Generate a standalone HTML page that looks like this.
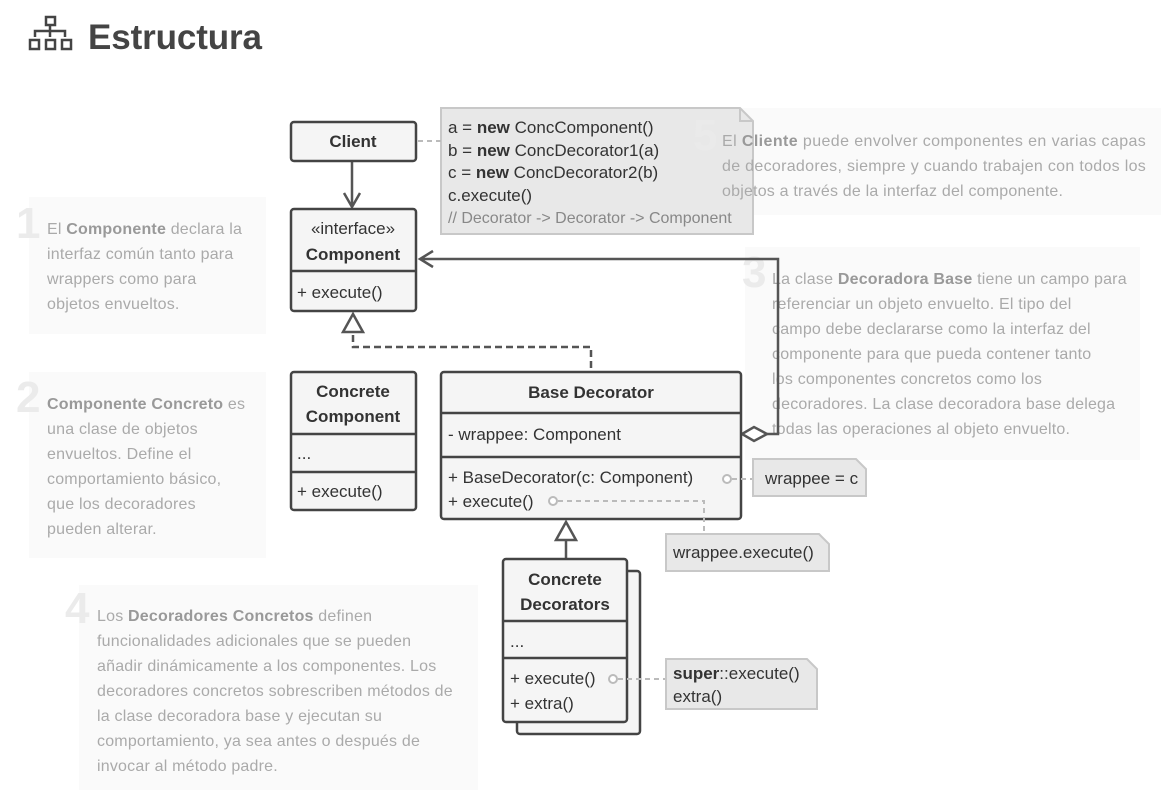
<!DOCTYPE html>
<html><head><meta charset="utf-8"><style>
html,body{margin:0;padding:0;background:#fff;}
svg{display:block;font-family:"Liberation Sans",sans-serif;}
.b{fill:#f5f5f5;stroke:#444;stroke-width:2.5;}
.t{font-size:17px;fill:#333;}
.tb{font-size:17px;fill:#333;font-weight:bold;}
.a{font-size:16px;fill:#aaa;letter-spacing:0.2px;}
.ab{font-weight:bold;fill:#999;}
.n{font-size:44px;font-weight:bold;fill:#ebebeb;}
.note{fill:#e8e8e8;stroke:#c8c8c8;stroke-width:2;}
.d{stroke:#bbb;stroke-width:2;stroke-dasharray:5,4;fill:none;}
</style></head><body>
<svg width="1161" height="791" viewBox="0 0 1161 791">
<!-- title -->
<g fill="none" stroke="#444" stroke-width="2.5">
<rect x="46" y="17" width="9" height="8"/>
<path d="M50 25v6M35 37v-6h30v6M50 31v6"/>
<rect x="30" y="40" width="9" height="9"/><rect x="46" y="40" width="9" height="9"/><rect x="62" y="40" width="9" height="9"/>
</g>
<text x="88" y="49" font-size="35" font-weight="bold" fill="#444" textLength="174">Estructura</text>

<!-- annotation backgrounds -->
<rect x="29" y="197" width="237" height="137" fill="#fafafa"/>
<rect x="29" y="372" width="237" height="186" fill="#fafafa"/>
<rect x="79" y="585" width="399" height="205" fill="#fafafa"/>
<rect x="700" y="108" width="461" height="107" fill="#fafafa"/>
<rect x="745" y="247" width="395" height="213" fill="#fafafa"/>

<text class="n" x="16" y="238">1</text>
<text class="a" x="47" y="234">El <tspan class="ab">Componente</tspan> declara la</text>
<text class="a" x="47" y="259">interfaz común tanto para</text>
<text class="a" x="47" y="284">wrappers como para</text>
<text class="a" x="47" y="309">objetos envueltos.</text>

<text class="n" x="16" y="412">2</text>
<text class="a" x="47" y="409"><tspan class="ab">Componente Concreto</tspan> es</text>
<text class="a" x="47" y="434">una clase de objetos</text>
<text class="a" x="47" y="459">envueltos. Define el</text>
<text class="a" x="47" y="484">comportamiento básico,</text>
<text class="a" x="47" y="509">que los decoradores</text>
<text class="a" x="47" y="534">pueden alterar.</text>

<text class="n" x="65" y="623">4</text>
<text class="a" x="97" y="621">Los <tspan class="ab">Decoradores Concretos</tspan> definen</text>
<text class="a" x="97" y="646">funcionalidades adicionales que se pueden</text>
<text class="a" x="97" y="671">añadir dinámicamente a los componentes. Los</text>
<text class="a" x="97" y="696">decoradores concretos sobrescriben métodos de</text>
<text class="a" x="97" y="721">la clase decoradora base y ejecutan su</text>
<text class="a" x="97" y="746">comportamiento, ya sea antes o después de</text>
<text class="a" x="97" y="771">invocar al método padre.</text>

<text class="n" x="742" y="287">3</text>
<text class="a" x="772" y="284">La clase <tspan class="ab">Decoradora Base</tspan> tiene un campo para</text>
<text class="a" x="772" y="309">referenciar un objeto envuelto. El tipo del</text>
<text class="a" x="772" y="334">campo debe declararse como la interfaz del</text>
<text class="a" x="772" y="359">componente para que pueda contener tanto</text>
<text class="a" x="772" y="384">los componentes concretos como los</text>
<text class="a" x="772" y="409">decoradores. La clase decoradora base delega</text>
<text class="a" x="772" y="434">todas las operaciones al objeto envuelto.</text>

<!-- code note -->
<path class="note" d="M441 108H740L753 121V234H441Z"/>
<path d="M740 108V121H753" fill="none" stroke="#c8c8c8" stroke-width="2"/>
<text class="t" font-size="16" x="448" y="133">a = <tspan font-weight="bold">new</tspan> ConcComponent()</text>
<text class="t" font-size="16" x="448" y="156">b = <tspan font-weight="bold">new</tspan> ConcDecorator1(a)</text>
<text class="t" font-size="16" x="448" y="178">c = <tspan font-weight="bold">new</tspan> ConcDecorator2(b)</text>
<text class="t" font-size="16" x="448" y="201">c.execute()</text>
<text font-size="16" fill="#888" x="448" y="223">// Decorator -&gt; Decorator -&gt; Component</text>
<path class="d" d="M418 141H441"/>

<text class="n" x="693" y="150" opacity="0.8">5</text>
<text class="a" x="722" y="146" textLength="424">El <tspan class="ab">Cliente</tspan> puede envolver componentes en varias capas</text>
<text class="a" x="722" y="171" textLength="424">de decoradores, siempre y cuando trabajen con todos los</text>
<text class="a" x="722" y="196">objetos a través de la interfaz del componente.</text>

<!-- connectors -->
<path d="M352 162V206M344 193L352 207L360 193" fill="none" stroke="#555" stroke-width="2.5"/>
<path d="M353 335V347H591V371" fill="none" stroke="#555" stroke-width="2.5" stroke-dasharray="7,4"/>
<path d="M353 314L343 332H363Z" fill="#fff" stroke="#555" stroke-width="2.5"/>
<path d="M767 434H778V259H420M433 251L420 259L433 267" fill="none" stroke="#555" stroke-width="2.5"/>
<path d="M742 434L754 427L767 434L754 441Z" fill="#fff" stroke="#555" stroke-width="2.5"/>
<path d="M566 541V559" stroke="#555" stroke-width="2.5"/>
<path d="M566 522L556 540H576Z" fill="#fff" stroke="#555" stroke-width="2.5"/>

<!-- Client -->
<rect class="b" x="291" y="122" width="125" height="39" rx="3"/>
<text class="tb" x="353" y="147" text-anchor="middle">Client</text>
<!-- Component -->
<rect class="b" x="291" y="209" width="125" height="102" rx="3"/>
<path d="M291 271H416" stroke="#444" stroke-width="2.5"/>
<text class="t" x="353" y="234" text-anchor="middle">«interface»</text>
<text class="tb" x="353" y="260" text-anchor="middle">Component</text>
<text class="t" x="297" y="298">+ execute()</text>
<!-- Concrete Component -->
<rect class="b" x="291" y="372" width="125" height="138" rx="3"/>
<path d="M291 434H416M291 472H416" stroke="#444" stroke-width="2.5"/>
<text class="tb" x="353" y="397" text-anchor="middle">Concrete</text>
<text class="tb" x="353" y="422" text-anchor="middle">Component</text>
<text class="t" x="297" y="459">...</text>
<text class="t" x="297" y="497">+ execute()</text>
<!-- Base Decorator -->
<rect class="b" x="441" y="372" width="300" height="147" rx="3"/>
<path d="M441 413H741M441 457H741" stroke="#444" stroke-width="2.5"/>
<text class="tb" x="591" y="398" text-anchor="middle">Base Decorator</text>
<text class="t" x="448" y="440">- wrappee: Component</text>
<text class="t" x="448" y="483">+ BaseDecorator(c: Component)</text>
<text class="t" x="448" y="507">+ execute()</text>
<!-- Concrete Decorators -->
<rect class="b" x="517" y="571" width="123" height="163" rx="3"/>
<rect class="b" x="503" y="559" width="124" height="163" rx="3"/>
<path d="M503 621H627M503 658H627" stroke="#444" stroke-width="2.5"/>
<text class="tb" x="565" y="585" text-anchor="middle">Concrete</text>
<text class="tb" x="565" y="610" text-anchor="middle">Decorators</text>
<text class="t" x="510" y="647">...</text>
<text class="t" x="510" y="684">+ execute()</text>
<text class="t" x="510" y="709">+ extra()</text>

<!-- small notes -->
<circle cx="727" cy="479" r="4" fill="#fff" stroke="#bbb" stroke-width="2"/>
<path class="d" d="M732 479H753"/>
<path class="note" d="M753 459H856L866 469V496H753Z"/>
<text class="t" font-size="16" x="765" y="484">wrappee = c</text>

<circle cx="553" cy="501" r="4" fill="#fff" stroke="#bbb" stroke-width="2"/>
<path class="d" d="M558 501H704V534"/>
<path class="note" d="M666 534H819L829 544V571H666Z"/>
<text class="t" font-size="16" x="673" y="558">wrappee.execute()</text>

<circle cx="613" cy="679" r="4" fill="#fff" stroke="#bbb" stroke-width="2"/>
<path class="d" d="M618 679H666"/>
<path class="note" d="M666 659H807L817 669V709H666Z"/>
<text class="t" font-size="16" x="673" y="679"><tspan font-weight="bold">super</tspan>::execute()</text>
<text class="t" font-size="16" x="673" y="702">extra()</text>
</svg>
</body></html>
